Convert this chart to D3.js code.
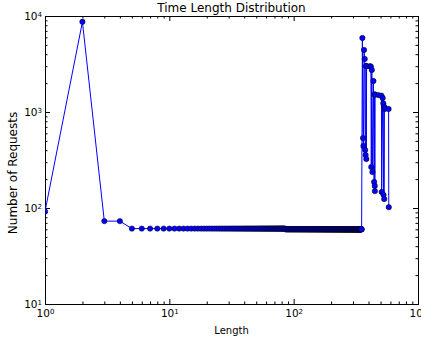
<!DOCTYPE html>
<html>
<head>
<meta charset="utf-8">
<script src="https://cdn.jsdelivr.net/npm/d3@7"></script>
<style>
  body { margin: 0; background: #fff; }
  text { font-family: "DejaVu Sans", sans-serif; fill: #000; }
</style>
</head>
<body>
<div class="chart"></div>
<script>
    /*Data*/

    const headLengths = [1, 2, 3, 4];
    const headCounts = [92, 8700, 73, 73];

    // flat stretch: every integer length from..to has the same count
    const flatRuns = [[5, 85, 61], [86, 352, 60]];

    const tailLengths = [357, 361, 364, 368, 373, 376, 379, 382, 384, 386, 412, 418, 421, 425, 430,
        438, 444, 447, 449, 450, 452, 480, 508, 510, 520, 526, 528, 535, 537, 540, 580, 582];
    const tailCounts = [5900, 535, 442, 4430, 3570, 402, 356, 3010, 324, 3010, 3000, 2970, 267, 2740, 237,
        2100, 187, 1520, 170, 150, 1520, 1500, 1480, 147, 1400, 1230, 137, 124, 1130, 1075, 1075, 102];

    const xMajor = [1, 10, 100, 1000];
    const yMajor = [10, 100, 1000, 10000];

    let data = headLengths.map((l, i) => ({len: l, n: headCounts[i]}));
    flatRuns.forEach(r => {
        for (let l = r[0]; l <= r[1]; l++) data.push({len: l, n: r[2]});
    });
    tailLengths.forEach((l, i) => data.push({len: l, n: tailCounts[i]}));

    /*Create Chart Area*/

    let margin = {top: 16, bottom: 39, left: 45, right: 3};
    const width = 421 - margin.left - margin.right,
    height = 343 - margin.top - margin.bottom;

    const svg = d3.select(".chart").append("svg")
    .attr("width", 421)
    .attr("height", 343)
    .append("g")
    .attr("transform", "translate(" + margin.left + "," + margin.top + ")");

    /*Scales*/

    const xScale = d3.scaleLog().domain([1, 1000]).range([0, width]);
    const yScale = d3.scaleLog().domain([10, 10000]).range([height, 0]);

    function minors(dom) {
        let out = [];
        for (let p = dom[0]; p < dom[1]; p *= 10) {
            for (let k = 2; k <= 9; k++) out.push(p * k);
        }
        return out;
    }

    function sup(sel) {
        sel.each(function(d) {
            const t = d3.select(this);
            t.text(null);
            t.append("tspan").text("10");
            t.append("tspan").attr("dy", "-0.45em").attr("font-size", "7px").text(Math.round(Math.log10(d)));
        });
    }

    /*Axes*/

    const gx = svg.append("g").attr("class", "x-axis")
    .attr("transform", `translate(0, ${height})`)
    .call(d3.axisBottom(xScale).tickValues(xMajor).tickSize(-5).tickSizeOuter(0).tickPadding(6));
    gx.selectAll("text").attr("font-size", "10.5px").attr("font-family", "DejaVu Sans").call(sup);

    svg.append("g").attr("transform", `translate(0, ${height})`)
    .call(d3.axisBottom(xScale).tickValues(minors([1, 1000])).tickSize(-2.5).tickSizeOuter(0).tickFormat(""));

    const gy = svg.append("g").attr("class", "y-axis")
    .call(d3.axisLeft(yScale).tickValues(yMajor).tickSize(-5).tickSizeOuter(0).tickPadding(3));
    gy.selectAll("text").attr("font-size", "10.5px").attr("font-family", "DejaVu Sans").call(sup);

    svg.append("g")
    .call(d3.axisLeft(yScale).tickValues(minors([10, 10000])).tickSize(-2.5).tickSizeOuter(0).tickFormat(""));

    // top and right spines with inward ticks
    svg.append("g").call(d3.axisTop(xScale).tickValues(xMajor).tickSize(-5).tickSizeOuter(0).tickFormat(""));
    svg.append("g").call(d3.axisTop(xScale).tickValues(minors([1, 1000])).tickSize(-2.5).tickSizeOuter(0).tickFormat(""));
    svg.append("g").attr("transform", `translate(${width}, 0)`)
    .call(d3.axisRight(yScale).tickValues(yMajor).tickSize(-5).tickSizeOuter(0).tickFormat(""));
    svg.append("g").attr("transform", `translate(${width}, 0)`)
    .call(d3.axisRight(yScale).tickValues(minors([10, 10000])).tickSize(-2.5).tickSizeOuter(0).tickFormat(""));

    svg.selectAll(".domain").attr("stroke", "#000");

    /*Line and markers*/

    svg.append("clipPath").attr("id", "clip")
    .append("rect").attr("width", width).attr("height", height);

    const plot = svg.append("g").attr("clip-path", "url(#clip)");

    const line = d3.line().x(d => xScale(d.len)).y(d => yScale(d.n));

    plot.append("path")
    .datum(data)
    .attr("d", line)
    .attr("fill", "none")
    .attr("stroke", "#0000ff")
    .attr("stroke-width", 1);

    plot.selectAll("circle")
    .data(data)
    .enter()
    .append("circle")
    .attr("cx", d => xScale(d.len))
    .attr("cy", d => yScale(d.n))
    .attr("r", 2.7)
    .attr("fill", "#0000ff")
    .attr("stroke", "#000")
    .attr("stroke-width", 0.5);

    /*Titles*/

    svg.append("text")
    .attr("x", width / 2).attr("y", -4.5)
    .attr("text-anchor", "middle")
    .attr("font-size", "12px")
    .text("Time Length Distribution");

    svg.append("text")
    .attr("x", width / 2).attr("y", height + 30)
    .attr("text-anchor", "middle")
    .attr("font-size", "10px")
    .text("Length");

    svg.append("text")
    .attr("transform", `translate(-28, 157) rotate(-90)`)
    .attr("text-anchor", "middle")
    .attr("font-size", "12px")
    .text("Number of Requests");
</script>
</body>
</html>
